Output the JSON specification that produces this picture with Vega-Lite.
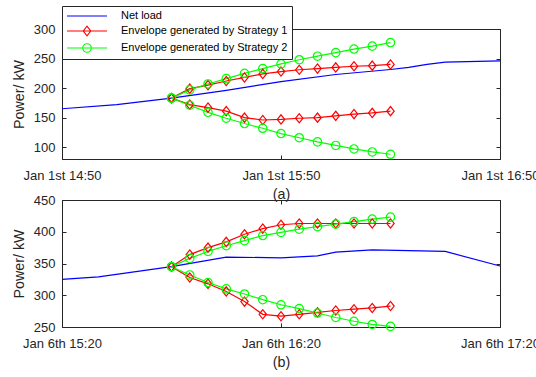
{
"$schema":"https://vega.github.io/schema/vega-lite/v6.json",
"padding":{"left":11,"top":5,"right":-4,"bottom":0},
"background":"white",
"spacing":41,
"bounds":"flush",
"resolve":{"scale":{"color":"independent","shape":"independent"},"legend":{"color":"independent","shape":"independent"}},
"config":{
 "font":"Liberation Sans",
 "view":{"stroke":"#262626","strokeWidth":1},
 "axis":{"grid":false,"domainColor":"#262626","tickColor":"#262626","labelColor":"#262626","titleColor":"#262626","labelFont":"Liberation Sans","labelFontSize":13,"titleFont":"Liberation Sans","titleFontSize":14.3,"titleFontWeight":"normal","tickSize":-4,"domainWidth":1,"tickWidth":1,"labelPadding":11},
 "axisX":{"labelPadding":14,"titlePadding":5,"labelFlush":false},
 "axisY":{"labelPadding":11,"titlePadding":7},
 "legend":{"labelFont":"Liberation Sans"}
},
"vconcat":[
{
 "width":438,"height":130,
 "data":{"values":[
  {"t":"2017-01-01T14:50:00","v":165,"s":"Net load","b":"n"},
  {"t":"2017-01-01T15:05:00","v":172,"s":"Net load","b":"n"},
  {"t":"2017-01-01T15:20:00","v":183,"s":"Net load","b":"n"},
  {"t":"2017-01-01T15:35:00","v":196,"s":"Net load","b":"n"},
  {"t":"2017-01-01T15:50:00","v":211,"s":"Net load","b":"n"},
  {"t":"2017-01-01T16:05:00","v":223,"s":"Net load","b":"n"},
  {"t":"2017-01-01T16:20:00","v":231.5,"s":"Net load","b":"n"},
  {"t":"2017-01-01T16:25:00","v":235,"s":"Net load","b":"n"},
  {"t":"2017-01-01T16:30:00","v":240,"s":"Net load","b":"n"},
  {"t":"2017-01-01T16:35:00","v":244,"s":"Net load","b":"n"},
  {"t":"2017-01-01T16:50:00","v":246,"s":"Net load","b":"n"},
  {"t":"2017-01-01T15:20:00","v":183,"s":"Envelope generated by Strategy 1","b":"u"},
  {"t":"2017-01-01T15:25:00","v":199,"s":"Envelope generated by Strategy 1","b":"u"},
  {"t":"2017-01-01T15:30:00","v":205,"s":"Envelope generated by Strategy 1","b":"u"},
  {"t":"2017-01-01T15:35:00","v":212,"s":"Envelope generated by Strategy 1","b":"u"},
  {"t":"2017-01-01T15:40:00","v":218,"s":"Envelope generated by Strategy 1","b":"u"},
  {"t":"2017-01-01T15:45:00","v":224,"s":"Envelope generated by Strategy 1","b":"u"},
  {"t":"2017-01-01T15:50:00","v":228,"s":"Envelope generated by Strategy 1","b":"u"},
  {"t":"2017-01-01T15:55:00","v":231,"s":"Envelope generated by Strategy 1","b":"u"},
  {"t":"2017-01-01T16:00:00","v":233,"s":"Envelope generated by Strategy 1","b":"u"},
  {"t":"2017-01-01T16:05:00","v":235,"s":"Envelope generated by Strategy 1","b":"u"},
  {"t":"2017-01-01T16:10:00","v":237,"s":"Envelope generated by Strategy 1","b":"u"},
  {"t":"2017-01-01T16:15:00","v":238,"s":"Envelope generated by Strategy 1","b":"u"},
  {"t":"2017-01-01T16:20:00","v":240,"s":"Envelope generated by Strategy 1","b":"u"},
  {"t":"2017-01-01T15:20:00","v":183,"s":"Envelope generated by Strategy 1","b":"l"},
  {"t":"2017-01-01T15:25:00","v":172,"s":"Envelope generated by Strategy 1","b":"l"},
  {"t":"2017-01-01T15:30:00","v":167,"s":"Envelope generated by Strategy 1","b":"l"},
  {"t":"2017-01-01T15:35:00","v":161,"s":"Envelope generated by Strategy 1","b":"l"},
  {"t":"2017-01-01T15:40:00","v":150,"s":"Envelope generated by Strategy 1","b":"l"},
  {"t":"2017-01-01T15:45:00","v":146,"s":"Envelope generated by Strategy 1","b":"l"},
  {"t":"2017-01-01T15:50:00","v":147,"s":"Envelope generated by Strategy 1","b":"l"},
  {"t":"2017-01-01T15:55:00","v":149,"s":"Envelope generated by Strategy 1","b":"l"},
  {"t":"2017-01-01T16:00:00","v":150,"s":"Envelope generated by Strategy 1","b":"l"},
  {"t":"2017-01-01T16:05:00","v":153,"s":"Envelope generated by Strategy 1","b":"l"},
  {"t":"2017-01-01T16:10:00","v":156,"s":"Envelope generated by Strategy 1","b":"l"},
  {"t":"2017-01-01T16:15:00","v":158,"s":"Envelope generated by Strategy 1","b":"l"},
  {"t":"2017-01-01T16:20:00","v":161,"s":"Envelope generated by Strategy 1","b":"l"},
  {"t":"2017-01-01T15:20:00","v":183,"s":"Envelope generated by Strategy 2","b":"u"},
  {"t":"2017-01-01T15:25:00","v":197,"s":"Envelope generated by Strategy 2","b":"u"},
  {"t":"2017-01-01T15:30:00","v":207,"s":"Envelope generated by Strategy 2","b":"u"},
  {"t":"2017-01-01T15:35:00","v":216,"s":"Envelope generated by Strategy 2","b":"u"},
  {"t":"2017-01-01T15:40:00","v":225,"s":"Envelope generated by Strategy 2","b":"u"},
  {"t":"2017-01-01T15:45:00","v":233,"s":"Envelope generated by Strategy 2","b":"u"},
  {"t":"2017-01-01T15:50:00","v":241,"s":"Envelope generated by Strategy 2","b":"u"},
  {"t":"2017-01-01T15:55:00","v":248,"s":"Envelope generated by Strategy 2","b":"u"},
  {"t":"2017-01-01T16:00:00","v":254,"s":"Envelope generated by Strategy 2","b":"u"},
  {"t":"2017-01-01T16:05:00","v":260,"s":"Envelope generated by Strategy 2","b":"u"},
  {"t":"2017-01-01T16:10:00","v":266,"s":"Envelope generated by Strategy 2","b":"u"},
  {"t":"2017-01-01T16:15:00","v":271,"s":"Envelope generated by Strategy 2","b":"u"},
  {"t":"2017-01-01T16:20:00","v":277,"s":"Envelope generated by Strategy 2","b":"u"},
  {"t":"2017-01-01T15:20:00","v":183,"s":"Envelope generated by Strategy 2","b":"l"},
  {"t":"2017-01-01T15:25:00","v":171,"s":"Envelope generated by Strategy 2","b":"l"},
  {"t":"2017-01-01T15:30:00","v":159,"s":"Envelope generated by Strategy 2","b":"l"},
  {"t":"2017-01-01T15:35:00","v":149,"s":"Envelope generated by Strategy 2","b":"l"},
  {"t":"2017-01-01T15:40:00","v":140,"s":"Envelope generated by Strategy 2","b":"l"},
  {"t":"2017-01-01T15:45:00","v":132,"s":"Envelope generated by Strategy 2","b":"l"},
  {"t":"2017-01-01T15:50:00","v":123,"s":"Envelope generated by Strategy 2","b":"l"},
  {"t":"2017-01-01T15:55:00","v":116,"s":"Envelope generated by Strategy 2","b":"l"},
  {"t":"2017-01-01T16:00:00","v":109,"s":"Envelope generated by Strategy 2","b":"l"},
  {"t":"2017-01-01T16:05:00","v":103,"s":"Envelope generated by Strategy 2","b":"l"},
  {"t":"2017-01-01T16:10:00","v":97,"s":"Envelope generated by Strategy 2","b":"l"},
  {"t":"2017-01-01T16:15:00","v":92,"s":"Envelope generated by Strategy 2","b":"l"},
  {"t":"2017-01-01T16:20:00","v":88,"s":"Envelope generated by Strategy 2","b":"l"}
 ]},
 "resolve":{"axis":{"x":"independent","y":"independent"}},
 "layer":[
  {
   "mark":{"type":"point","opacity":0,"filled":false},
   "encoding":{
    "x":{"field":"t","type":"temporal","axis":{"orient":"top","values":[{"year":2017,"month":1,"date":1,"hours":14,"minutes":50},{"year":2017,"month":1,"date":1,"hours":15,"minutes":50},{"year":2017,"month":1,"date":1,"hours":16,"minutes":50}],"labels":false,"title":null}},
    "y":{"field":"v","type":"quantitative","axis":{"orient":"right","values":[100,150,200,250,300],"labels":false,"title":null}},
    "color":{"field":"s","type":"nominal","scale":{"domain":["Net load","Envelope generated by Strategy 1","Envelope generated by Strategy 2"],"range":["#0000ff","#ff0000","#00ff00"]},"legend":{"orient":"none","legendX":0,"legendY":-23,"title":null,"padding":4,"rowPadding":2,"symbolOffset":15,"labelOffset":28,"labelFont":"Liberation Sans","labelFontSize":11,"labelColor":"black","strokeColor":"#262626","fillColor":"white","symbolSize":100,"symbolStrokeWidth":1.2,"labelLimit":400}},
    "shape":{"field":"s","type":"nominal","scale":{"domain":["Net load","Envelope generated by Strategy 1","Envelope generated by Strategy 2"],"range":["M-4,0H4","M-4,0H4M-0.75,0L0,-0.95L0.75,0L0,0.95Z","M-4,0H4M0.85,0A0.85,0.85,0,1,1,-0.85,0A0.85,0.85,0,1,1,0.85,0Z"]},"legend":{"orient":"none","legendX":0,"legendY":-23,"title":null,"padding":4,"rowPadding":2,"symbolOffset":15,"labelOffset":28,"labelFont":"Liberation Sans","labelFontSize":11,"labelColor":"black","strokeColor":"#262626","fillColor":"white","symbolSize":100,"symbolStrokeWidth":1.2,"labelLimit":400}}
   }
  },
  {
   "mark":{"type":"line","strokeWidth":1.2},
   "encoding":{
    "x":{"field":"t","type":"temporal","scale":{"domain":[{"year":2017,"month":1,"date":1,"hours":14,"minutes":50},{"year":2017,"month":1,"date":1,"hours":16,"minutes":50}],"nice":false},
         "axis":{"orient":"bottom","values":[{"year":2017,"month":1,"date":1,"hours":14,"minutes":50},{"year":2017,"month":1,"date":1,"hours":15,"minutes":50},{"year":2017,"month":1,"date":1,"hours":16,"minutes":50}],"format":"%b %-dst %H:%M","title":"(a)"}},
    "y":{"field":"v","type":"quantitative","scale":{"domain":[80,300],"nice":false,"zero":false},
         "axis":{"orient":"left","values":[100,150,200,250,300],"title":"Power/ kW"}},
    "color":{"field":"s","type":"nominal"},
    "detail":{"field":"b"}
   }
  },
  {
   "transform":[{"filter":"datum.s == 'Envelope generated by Strategy 1'"}],
   "mark":{"type":"point","filled":false,"shape":"M-0.8,0L0,-1L0.8,0L0,1Z","size":85,"strokeWidth":1.2,"opacity":1},
   "encoding":{
    "x":{"field":"t","type":"temporal","axis":null},
    "y":{"field":"v","type":"quantitative","axis":null},
    "color":{"field":"s","type":"nominal"}
   }
  },
  {
   "transform":[{"filter":"datum.s == 'Envelope generated by Strategy 2'"}],
   "mark":{"type":"point","filled":false,"shape":"circle","size":70,"strokeWidth":1.2,"opacity":1},
   "encoding":{
    "x":{"field":"t","type":"temporal","axis":null},
    "y":{"field":"v","type":"quantitative","axis":null},
    "color":{"field":"s","type":"nominal"}
   }
  }
 ]
},
{
 "width":438,"height":127,
 "data":{"values":[
  {"t":"2017-01-06T15:20:00","v":325,"s":"Net load","b":"n"},
  {"t":"2017-01-06T15:30:00","v":329,"s":"Net load","b":"n"},
  {"t":"2017-01-06T15:50:00","v":345,"s":"Net load","b":"n"},
  {"t":"2017-01-06T16:05:00","v":360,"s":"Net load","b":"n"},
  {"t":"2017-01-06T16:20:00","v":359,"s":"Net load","b":"n"},
  {"t":"2017-01-06T16:30:00","v":362,"s":"Net load","b":"n"},
  {"t":"2017-01-06T16:35:00","v":368,"s":"Net load","b":"n"},
  {"t":"2017-01-06T16:45:00","v":371.5,"s":"Net load","b":"n"},
  {"t":"2017-01-06T17:05:00","v":369,"s":"Net load","b":"n"},
  {"t":"2017-01-06T17:20:00","v":346,"s":"Net load","b":"n"},
  {"t":"2017-01-06T15:50:00","v":345,"s":"Envelope generated by Strategy 1","b":"u"},
  {"t":"2017-01-06T15:55:00","v":364,"s":"Envelope generated by Strategy 1","b":"u"},
  {"t":"2017-01-06T16:00:00","v":375,"s":"Envelope generated by Strategy 1","b":"u"},
  {"t":"2017-01-06T16:05:00","v":384,"s":"Envelope generated by Strategy 1","b":"u"},
  {"t":"2017-01-06T16:10:00","v":396,"s":"Envelope generated by Strategy 1","b":"u"},
  {"t":"2017-01-06T16:15:00","v":405,"s":"Envelope generated by Strategy 1","b":"u"},
  {"t":"2017-01-06T16:20:00","v":411,"s":"Envelope generated by Strategy 1","b":"u"},
  {"t":"2017-01-06T16:25:00","v":413,"s":"Envelope generated by Strategy 1","b":"u"},
  {"t":"2017-01-06T16:30:00","v":413,"s":"Envelope generated by Strategy 1","b":"u"},
  {"t":"2017-01-06T16:35:00","v":413,"s":"Envelope generated by Strategy 1","b":"u"},
  {"t":"2017-01-06T16:40:00","v":413,"s":"Envelope generated by Strategy 1","b":"u"},
  {"t":"2017-01-06T16:45:00","v":413,"s":"Envelope generated by Strategy 1","b":"u"},
  {"t":"2017-01-06T16:50:00","v":413,"s":"Envelope generated by Strategy 1","b":"u"},
  {"t":"2017-01-06T15:50:00","v":345,"s":"Envelope generated by Strategy 1","b":"l"},
  {"t":"2017-01-06T15:55:00","v":328,"s":"Envelope generated by Strategy 1","b":"l"},
  {"t":"2017-01-06T16:00:00","v":318,"s":"Envelope generated by Strategy 1","b":"l"},
  {"t":"2017-01-06T16:05:00","v":306,"s":"Envelope generated by Strategy 1","b":"l"},
  {"t":"2017-01-06T16:10:00","v":290,"s":"Envelope generated by Strategy 1","b":"l"},
  {"t":"2017-01-06T16:15:00","v":270,"s":"Envelope generated by Strategy 1","b":"l"},
  {"t":"2017-01-06T16:20:00","v":267,"s":"Envelope generated by Strategy 1","b":"l"},
  {"t":"2017-01-06T16:25:00","v":270,"s":"Envelope generated by Strategy 1","b":"l"},
  {"t":"2017-01-06T16:30:00","v":273,"s":"Envelope generated by Strategy 1","b":"l"},
  {"t":"2017-01-06T16:35:00","v":276,"s":"Envelope generated by Strategy 1","b":"l"},
  {"t":"2017-01-06T16:40:00","v":278,"s":"Envelope generated by Strategy 1","b":"l"},
  {"t":"2017-01-06T16:45:00","v":280,"s":"Envelope generated by Strategy 1","b":"l"},
  {"t":"2017-01-06T16:50:00","v":283,"s":"Envelope generated by Strategy 1","b":"l"},
  {"t":"2017-01-06T15:50:00","v":345,"s":"Envelope generated by Strategy 2","b":"u"},
  {"t":"2017-01-06T15:55:00","v":358,"s":"Envelope generated by Strategy 2","b":"u"},
  {"t":"2017-01-06T16:00:00","v":369,"s":"Envelope generated by Strategy 2","b":"u"},
  {"t":"2017-01-06T16:05:00","v":378,"s":"Envelope generated by Strategy 2","b":"u"},
  {"t":"2017-01-06T16:10:00","v":386,"s":"Envelope generated by Strategy 2","b":"u"},
  {"t":"2017-01-06T16:15:00","v":394,"s":"Envelope generated by Strategy 2","b":"u"},
  {"t":"2017-01-06T16:20:00","v":399,"s":"Envelope generated by Strategy 2","b":"u"},
  {"t":"2017-01-06T16:25:00","v":404,"s":"Envelope generated by Strategy 2","b":"u"},
  {"t":"2017-01-06T16:30:00","v":408,"s":"Envelope generated by Strategy 2","b":"u"},
  {"t":"2017-01-06T16:35:00","v":412,"s":"Envelope generated by Strategy 2","b":"u"},
  {"t":"2017-01-06T16:40:00","v":416,"s":"Envelope generated by Strategy 2","b":"u"},
  {"t":"2017-01-06T16:45:00","v":420,"s":"Envelope generated by Strategy 2","b":"u"},
  {"t":"2017-01-06T16:50:00","v":423,"s":"Envelope generated by Strategy 2","b":"u"},
  {"t":"2017-01-06T15:50:00","v":345,"s":"Envelope generated by Strategy 2","b":"l"},
  {"t":"2017-01-06T15:55:00","v":332,"s":"Envelope generated by Strategy 2","b":"l"},
  {"t":"2017-01-06T16:00:00","v":320,"s":"Envelope generated by Strategy 2","b":"l"},
  {"t":"2017-01-06T16:05:00","v":310,"s":"Envelope generated by Strategy 2","b":"l"},
  {"t":"2017-01-06T16:10:00","v":302,"s":"Envelope generated by Strategy 2","b":"l"},
  {"t":"2017-01-06T16:15:00","v":293,"s":"Envelope generated by Strategy 2","b":"l"},
  {"t":"2017-01-06T16:20:00","v":285,"s":"Envelope generated by Strategy 2","b":"l"},
  {"t":"2017-01-06T16:25:00","v":279,"s":"Envelope generated by Strategy 2","b":"l"},
  {"t":"2017-01-06T16:30:00","v":272,"s":"Envelope generated by Strategy 2","b":"l"},
  {"t":"2017-01-06T16:35:00","v":265,"s":"Envelope generated by Strategy 2","b":"l"},
  {"t":"2017-01-06T16:40:00","v":259,"s":"Envelope generated by Strategy 2","b":"l"},
  {"t":"2017-01-06T16:45:00","v":254,"s":"Envelope generated by Strategy 2","b":"l"},
  {"t":"2017-01-06T16:50:00","v":251,"s":"Envelope generated by Strategy 2","b":"l"}
 ]},
 "resolve":{"axis":{"x":"independent","y":"independent"}},
 "layer":[
  {
   "mark":{"type":"point","opacity":0},
   "encoding":{
    "x":{"field":"t","type":"temporal","axis":{"orient":"top","values":[{"year":2017,"month":1,"date":6,"hours":15,"minutes":20},{"year":2017,"month":1,"date":6,"hours":16,"minutes":20},{"year":2017,"month":1,"date":6,"hours":17,"minutes":20}],"labels":false,"title":null}},
    "y":{"field":"v","type":"quantitative","axis":{"orient":"right","values":[250,300,350,400,450],"labels":false,"title":null}}
   }
  },
  {
   "mark":{"type":"line","strokeWidth":1.2},
   "encoding":{
    "x":{"field":"t","type":"temporal","scale":{"domain":[{"year":2017,"month":1,"date":6,"hours":15,"minutes":20},{"year":2017,"month":1,"date":6,"hours":17,"minutes":20}],"nice":false},
         "axis":{"orient":"bottom","values":[{"year":2017,"month":1,"date":6,"hours":15,"minutes":20},{"year":2017,"month":1,"date":6,"hours":16,"minutes":20},{"year":2017,"month":1,"date":6,"hours":17,"minutes":20}],"format":"%b %-dth %H:%M","title":"(b)"}},
    "y":{"field":"v","type":"quantitative","scale":{"domain":[250,450],"nice":false,"zero":false},
         "axis":{"orient":"left","values":[250,300,350,400,450],"title":"Power/ kW"}},
    "color":{"field":"s","type":"nominal","scale":{"domain":["Net load","Envelope generated by Strategy 1","Envelope generated by Strategy 2"],"range":["#0000ff","#ff0000","#00ff00"]},"legend":null},
    "detail":{"field":"b"}
   }
  },
  {
   "transform":[{"filter":"datum.s == 'Envelope generated by Strategy 1'"}],
   "mark":{"type":"point","filled":false,"shape":"M-0.8,0L0,-1L0.8,0L0,1Z","size":85,"strokeWidth":1.2,"opacity":1},
   "encoding":{
    "x":{"field":"t","type":"temporal","axis":null},
    "y":{"field":"v","type":"quantitative","axis":null},
    "color":{"field":"s","type":"nominal","legend":null}
   }
  },
  {
   "transform":[{"filter":"datum.s == 'Envelope generated by Strategy 2'"}],
   "mark":{"type":"point","filled":false,"shape":"circle","size":70,"strokeWidth":1.2,"opacity":1},
   "encoding":{
    "x":{"field":"t","type":"temporal","axis":null},
    "y":{"field":"v","type":"quantitative","axis":null},
    "color":{"field":"s","type":"nominal","legend":null}
   }
  }
 ]
}
]
}
